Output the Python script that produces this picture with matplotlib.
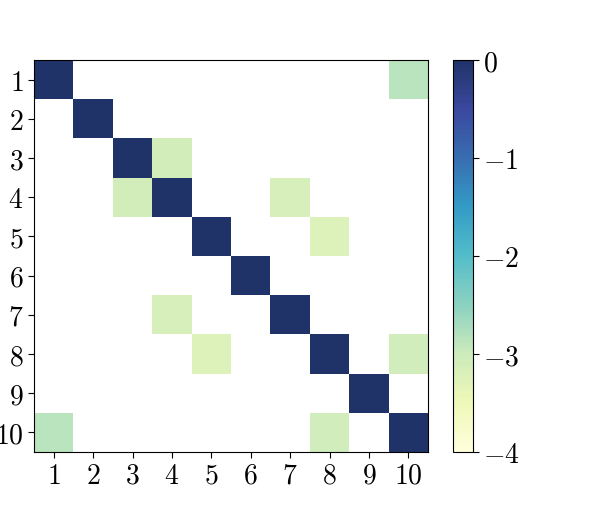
import numpy as np
import matplotlib
matplotlib.use('Agg')
import matplotlib.pyplot as plt

plt.rcParams['mathtext.fontset'] = 'cm'
plt.rcParams['font.family'] = 'serif'
plt.rcParams['font.serif'] = ['cmr10', 'DejaVu Serif']
plt.rcParams['axes.formatter.use_mathtext'] = True

n = 10
labels = [str(i) for i in range(1, n + 1)]
diag_val = 0.0
# off-diagonal entries: (row, col, value), 1-based
pairs = [(1, 10, -2.85), (10, 1, -2.85),
         (3, 4, -3.1), (4, 3, -3.1),
         (4, 7, -3.15), (7, 4, -3.15),
         (5, 8, -3.25), (8, 5, -3.25),
         (8, 10, -3.05), (10, 8, -3.05)]

mat = np.full((n, n), np.nan)
np.fill_diagonal(mat, diag_val)
for r, c, v in pairs:
    mat[r - 1, c - 1] = v
mat = np.ma.masked_invalid(mat)

fig = plt.figure(figsize=(5.98, 5.10), dpi=100)
ax = fig.add_axes([34/598, 1 - 453/510, 394/598, 392/510])
cax = fig.add_axes([453/598, 1 - 453/510, 20/598, 392/510])

x = np.arange(n + 1) + 0.5
mesh = ax.pcolormesh(x, x, mat, cmap='YlGnBu', vmin=-4, vmax=0,
                     alpha=0.9, antialiased=True)
ax.set_xlim(0.5, n + 0.5)
ax.set_ylim(n + 0.5, 0.5)
ax.set_xticks(range(1, n + 1))
ax.set_yticks(range(1, n + 1))
ax.set_xticklabels(['$%s$' % l for l in labels], fontsize=20)
ax.set_yticklabels(['$%s$' % l for l in labels], fontsize=20)
ax.tick_params(length=4, width=0.8)
for s in ax.spines.values():
    s.set_linewidth(0.8)

cb = fig.colorbar(mesh, cax=cax)
cb.set_ticks([0, -1, -2, -3, -4])
cb.set_ticklabels(['$0$', '$-1$', '$-2$', '$-3$', '$-4$'])
cb.ax.tick_params(labelsize=20, length=4, width=0.8)
cb.outline.set_linewidth(0.8)

fig.savefig('out.png', dpi=100)
